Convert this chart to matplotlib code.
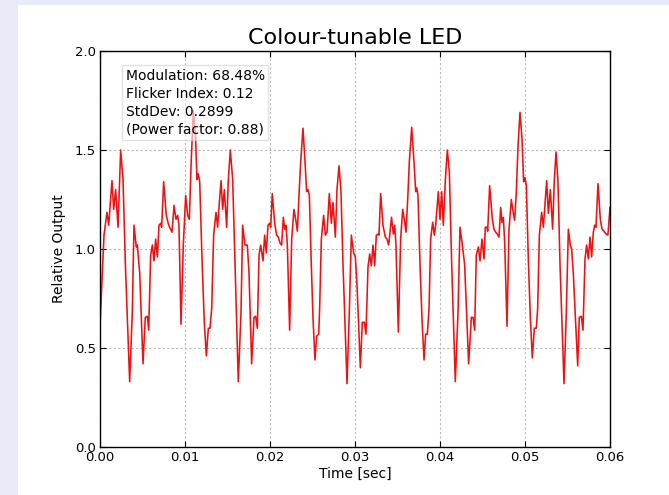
import numpy as np
import matplotlib
matplotlib.use('Agg')
import matplotlib.pyplot as plt
from matplotlib.patches import Rectangle

# waveform: time in milliseconds, relative output
t_ms = [0.00, 0.47, 0.82, 1.02, 1.41, 1.61, 1.84, 2.12, 2.43, 2.71, 2.98, 3.49,
        3.80, 4.00, 4.27, 4.39, 4.67, 5.06, 5.33, 5.57, 5.73, 5.96, 6.16, 6.35,
        6.55, 6.75, 6.94, 7.14, 7.25, 7.49, 7.80, 8.08, 8.31, 8.47, 8.71, 8.94,
        9.14, 9.29, 9.53, 9.80, 10.08, 10.31, 10.51, 10.71, 10.98, 11.22, 11.41,
        11.57, 11.73, 12.00, 12.27, 12.51, 12.75, 12.94, 13.14, 13.37, 13.65,
        13.84, 14.04, 14.24, 14.43, 14.63, 14.90, 15.10, 15.33, 15.61, 15.88,
        16.27, 16.59, 16.78, 17.06, 17.33, 17.53, 17.84, 18.12, 18.31, 18.51,
        18.71, 18.90, 19.18, 19.37, 19.57, 19.76, 19.96, 20.08, 20.27, 20.55,
        20.78, 20.98, 21.18, 21.37, 21.57, 21.73, 21.88, 22.04, 22.31, 22.55,
        22.82, 23.02, 23.22, 23.41, 23.61, 23.88, 24.12, 24.31, 24.47, 24.63,
        24.86, 25.06, 25.29, 25.49, 25.73, 25.84, 26.04, 26.31, 26.51, 26.71,
        26.98, 27.22, 27.41, 27.69, 27.88, 28.12, 28.35, 28.59, 29.06, 29.33,
        29.57, 29.84, 30.04, 30.24, 30.63, 30.86, 31.10, 31.29, 31.53, 31.73,
        31.92, 32.12, 32.31, 32.51, 32.71, 32.82, 33.02, 33.29, 33.57, 33.76,
        33.96, 34.30, 34.51, 34.67, 34.82, 35.10, 35.37, 35.61, 35.80, 36.00,
        36.20, 36.39, 36.67, 36.94, 37.14, 37.25, 37.41, 37.65, 37.88, 38.12,
        38.31, 38.51, 38.71, 38.90, 39.14, 39.33, 39.49, 39.80, 40.00, 40.20,
        40.39, 40.63, 40.86, 41.10, 41.37, 41.80, 42.12, 42.35, 42.63, 42.90,
        43.37, 43.69, 43.88, 44.08, 44.27, 44.51, 44.71, 44.94, 45.18, 45.33,
        45.53, 45.61, 45.84, 46.16, 46.35, 46.55, 46.75, 46.94, 47.14, 47.29,
        47.45, 47.61, 47.88, 48.12, 48.39, 48.59, 48.78, 48.98, 49.18, 49.41,
        49.65, 49.84, 50.00, 50.16, 50.39, 50.63, 50.86, 51.10, 51.33, 51.49,
        51.69, 51.96, 52.16, 52.55, 52.75, 52.98, 53.25, 53.45, 53.65, 53.88,
        54.12, 54.59, 54.86, 55.10, 55.33, 55.49, 55.69, 56.20, 56.39, 56.63,
        56.82, 57.06, 57.25, 57.45, 57.65, 57.84, 58.04, 58.20, 58.35, 58.59,
        58.86, 59.06, 59.29, 59.55, 59.75, 60.00]
rel_output = [0.61, 1.07, 1.185, 1.12, 1.345, 1.20, 1.30, 1.11, 1.50, 1.35, 0.93, 0.33,
              0.68, 1.12, 1.01, 1.02, 0.88, 0.42, 0.655, 0.66, 0.59, 0.97, 1.02, 0.94,
              1.05, 0.96, 1.12, 1.13, 1.11, 1.34, 1.17, 1.12, 1.10, 1.085, 1.22, 1.15,
              1.17, 1.12, 0.62, 1.02, 1.27, 1.17, 1.15, 1.42, 1.70, 1.59, 1.35,
              1.38, 1.34, 0.95, 0.63, 0.46, 0.60, 0.60, 0.70, 1.07, 1.185,
              1.11, 1.235, 1.345, 1.20, 1.30, 1.11, 1.35, 1.50, 1.35, 0.93,
              0.33, 0.68, 1.12, 1.02, 1.02, 0.88, 0.42, 0.655, 0.66, 0.60,
              0.97, 1.02, 0.94, 1.07, 0.98, 1.12, 1.13, 1.11, 1.28, 1.13,
              1.07, 1.06, 1.03, 1.02, 1.16, 1.10, 1.12, 1.02, 0.59, 1.05,
              1.20, 1.15, 1.09, 1.27, 1.44, 1.61, 1.44, 1.29, 1.30, 1.27,
              0.92, 0.65, 0.44, 0.56, 0.57, 0.70, 1.05, 1.17, 1.07, 1.085,
              1.28, 1.13, 1.235, 1.06, 1.30, 1.42, 1.29, 0.92, 0.32, 0.68,
              1.07, 0.98, 0.96, 0.815, 0.40, 0.63, 0.63, 0.57, 0.91, 0.975,
              0.915, 1.02, 0.915, 1.07, 1.075, 1.07, 1.28, 1.12, 1.06, 1.05,
              1.02, 1.16, 1.075, 1.12, 1.02, 0.58, 1.05, 1.20, 1.15, 1.085,
              1.25, 1.44, 1.615, 1.44, 1.29, 1.31, 1.27, 0.92, 0.65, 0.44,
              0.57, 0.57, 0.70, 1.05, 1.135, 1.07, 1.12, 1.29, 1.15, 1.29,
              1.12, 1.35, 1.50, 1.39, 0.93, 0.33, 0.68, 1.11, 1.02, 0.92,
              0.42, 0.655, 0.655, 0.59, 0.97, 1.01, 0.94, 1.05, 0.95, 1.11,
              1.11, 1.09, 1.32, 1.15, 1.10, 1.085, 1.075, 1.06, 1.21, 1.135,
              1.16, 1.035, 0.61, 1.10, 1.25, 1.19, 1.145, 1.29, 1.52, 1.69,
              1.555, 1.34, 1.36, 1.32, 0.95, 0.65, 0.45, 0.60, 0.60, 0.70,
              1.07, 1.185, 1.11, 1.345, 1.18, 1.30, 1.10, 1.35, 1.49, 1.34,
              0.92, 0.32, 0.68, 1.10, 1.02, 1.00, 0.87, 0.41, 0.655, 0.66,
              0.59, 0.95, 1.02, 0.95, 1.06, 0.96, 1.085, 1.12, 1.11, 1.33,
              1.15, 1.10, 1.09, 1.075, 1.07, 1.21]

stats_lines = ['Modulation: 68.48%', 'Flicker Index: 0.12',
               'StdDev: 0.2899', '(Power factor: 0.88)']

t = np.array(t_ms) / 1000.0

fig = plt.figure(figsize=(6.69, 4.95), dpi=100)
fig.patch.set_facecolor('#e8ebf7')
# white page area of the screenshot, kept behind the axes
fig.patches.append(Rectangle((18 / 669, 0), 1, 490 / 495, transform=fig.transFigure,
                             facecolor='white', edgecolor='none', zorder=-10))

ax = fig.add_axes([100 / 669, 48 / 495, 510 / 669, 396 / 495])
ax.plot(t, rel_output, color='#ee1111', lw=1.15, solid_joinstyle='round')

ax.set_xlim(0, 0.06)
ax.set_ylim(0, 2.0)
ax.set_xticks(np.arange(0, 0.061, 0.01))
ax.set_yticks(np.arange(0, 2.01, 0.5))
ax.xaxis.set_major_formatter(plt.FormatStrFormatter('%.2f'))
ax.yaxis.set_major_formatter(plt.FormatStrFormatter('%.1f'))
ax.tick_params(direction='in', top=True, right=True, labelsize=9.5, length=4, pad=3)
ax.grid(True, color='#b8b8b8', linestyle=(0, (2, 2)), lw=0.8)
for s in ax.spines.values():
    s.set_linewidth(1.0)

ax.set_title('Colour-tunable LED', fontsize=16, pad=5)
ax.set_xlabel('Time [sec]', fontsize=10, labelpad=2)
ax.set_ylabel('Relative Output', fontsize=10, labelpad=6)

ax.text(0.05, 0.955, '\n'.join(stats_lines), transform=ax.transAxes, fontsize=10,
        va='top', ha='left', linespacing=1.35,
        bbox=dict(boxstyle='square,pad=0.25', facecolor='white', edgecolor='#cccccc', alpha=0.6))

fig.savefig('out.png', dpi=100, facecolor=fig.get_facecolor())
